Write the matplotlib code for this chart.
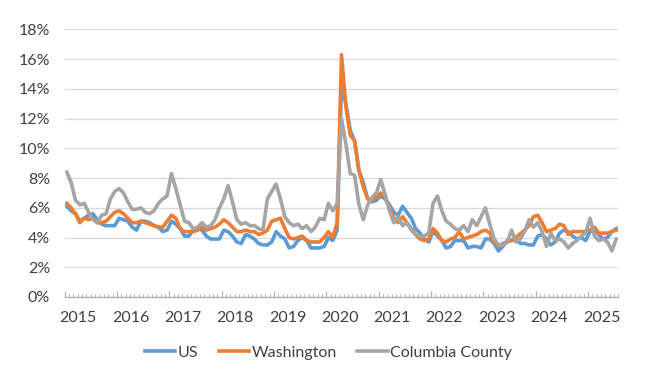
"""Monthly unemployment rate: US vs Washington vs Columbia County, 2015-2025."""

import matplotlib

matplotlib.use("Agg")
import matplotlib.pyplot as plt
import numpy as np
from matplotlib.ticker import FixedLocator, PercentFormatter

plt.rcParams["font.family"] = ["Lato", "DejaVu Sans"]

# monthly values, Jan 2015 .. Jul 2025 (percent)
us = [
    6.1, 5.8, 5.6, 5.1, 5.3, 5.5, 5.6, 5.2, 4.9, 4.8, 4.8, 4.8,
    5.3, 5.2, 5.1, 4.7, 4.5, 5.1, 5.1, 5.0, 4.8, 4.7, 4.4, 4.5,
    5.1, 4.9, 4.6, 4.1, 4.1, 4.5, 4.6, 4.5, 4.1, 3.9, 3.9, 3.9,
    4.5, 4.4, 4.1, 3.7, 3.6, 4.2, 4.1, 3.9, 3.6, 3.5, 3.5, 3.7,
    4.4, 4.1, 3.9, 3.3, 3.4, 3.8, 4.0, 3.8, 3.3, 3.3, 3.3, 3.4,
    4.0, 3.8, 4.5, 14.4, 13.0, 11.2, 10.5, 8.5, 7.7, 6.6, 6.4, 6.5,
    6.8, 6.6, 6.2, 5.7, 5.5, 6.1, 5.7, 5.3, 4.6, 4.3, 3.9, 3.7,
    4.4, 4.1, 3.8, 3.3, 3.4, 3.8, 3.8, 3.8, 3.3, 3.4, 3.4, 3.3,
    3.9, 3.9, 3.6, 3.1, 3.4, 3.8, 3.8, 3.9, 3.6, 3.6, 3.5, 3.5,
    4.1, 4.2, 3.9, 3.5, 3.7, 4.3, 4.5, 4.4, 4.1, 3.9, 4.0, 3.8,
    4.4, 4.5, 4.2, 3.9, 4.0, 4.4, 4.6,
]
washington = [
    6.3, 6.0, 5.6, 5.0, 5.3, 5.2, 5.3, 5.0, 5.0, 5.1, 5.4, 5.7,
    5.8, 5.6, 5.3, 5.0, 5.0, 5.1, 5.0, 4.9, 4.8, 4.7, 4.7, 5.1,
    5.5, 5.3, 4.6, 4.4, 4.4, 4.4, 4.5, 4.7, 4.5, 4.6, 4.7, 4.9,
    5.2, 5.0, 4.7, 4.4, 4.4, 4.5, 4.4, 4.4, 4.2, 4.3, 4.5, 5.1,
    5.2, 5.3, 4.6, 4.0, 3.9, 4.0, 4.1, 3.8, 3.7, 3.7, 3.7, 4.0,
    4.4, 4.0, 5.0, 16.3, 12.8, 10.9, 10.5, 8.5, 7.4, 6.6, 6.5, 6.7,
    7.0, 6.7, 6.0, 5.3, 5.0, 5.4, 5.0, 4.6, 4.2, 3.9, 3.8, 3.9,
    4.6, 4.3, 3.8, 3.7, 3.9, 4.0, 4.4, 3.9, 4.0, 4.1, 4.2, 4.4,
    4.5, 4.3, 3.7, 3.4, 3.6, 3.7, 3.8, 4.0, 4.25, 4.5, 4.8, 5.4,
    5.5, 5.0, 4.4, 4.5, 4.6, 4.9, 4.8, 4.2, 4.4, 4.4, 4.4, 4.4,
    4.5, 4.7, 4.3, 4.3, 4.3, 4.4, 4.5,
]
columbia = [
    8.4, 7.7, 6.5, 6.2, 6.3, 5.7, 5.2, 5.0, 5.5, 5.6, 6.6, 7.1,
    7.3, 7.0, 6.4, 5.9, 5.9, 6.0, 5.7, 5.6, 5.8, 6.3, 6.6, 6.8,
    8.3, 7.3, 6.2, 5.1, 5.0, 4.6, 4.7, 5.0, 4.7, 4.8, 5.2, 6.0,
    6.6, 7.5, 6.4, 5.2, 4.9, 5.0, 4.8, 4.8, 4.6, 4.5, 6.6, 7.1,
    7.6, 6.6, 5.4, 5.0, 4.8, 4.9, 4.6, 4.8, 4.4, 4.7, 5.3, 5.2,
    6.3, 5.8, 6.3, 12.0, 10.3, 8.3, 8.2, 6.2, 5.2, 6.2, 6.7, 7.0,
    7.9, 6.9, 5.8, 5.0, 5.4, 4.8, 5.0, 4.5, 4.2, 4.1, 4.1, 4.3,
    6.3, 6.8, 5.8, 5.1, 4.9, 4.6, 4.5, 4.8, 4.4, 5.2, 4.8, 5.4,
    6.0, 4.9, 3.9, 3.5, 3.5, 3.7, 4.5, 3.7, 3.9, 4.4, 5.2, 4.7,
    5.0, 4.4, 3.4, 4.3, 3.8, 3.9, 3.7, 3.3, 3.6, 3.8, 4.1, 4.3,
    5.3, 4.1, 3.8, 3.9, 3.7, 3.1, 3.9,
]
years = ["2015", "2016", "2017", "2018", "2019", "2020",
         "2021", "2022", "2023", "2024", "2025"]

SERIES = [
    ("US", us, "#5B9BD5"),
    ("Washington", washington, "#ED7D31"),
    ("Columbia County", columbia, "#A5A5A5"),
]
TEXT = "#404040"
AXIS = "#b4b4b4"
GRID = "#d9d9d9"
FS = 11.5

n = len(us)
x = np.arange(n)

fig = plt.figure(figsize=(6.5, 3.79), dpi=100)
ax = fig.add_axes([0.0994, 0.2164, 0.852, 0.7058])

for name, vals, color in SERIES:
    ax.plot(x, vals, color=color, lw=2.6, label=name, solid_joinstyle="round")

ax.set_xlim(-0.5, n - 0.5)
ax.set_ylim(0, 18)
ax.set_yticks(np.arange(0, 19, 2))
ax.yaxis.set_major_formatter(PercentFormatter(decimals=0))
ax.grid(axis="y", color=GRID, lw=0.9)
ax.set_axisbelow(True)

for side in ("left", "right", "top"):
    ax.spines[side].set_visible(False)
ax.spines["bottom"].set_color(AXIS)
ax.spines["bottom"].set_linewidth(1.0)

# year boundaries as major ticks, months as minor ticks
ax.xaxis.set_major_locator(FixedLocator(np.arange(-0.5, n, 12)))
ax.xaxis.set_minor_locator(FixedLocator(np.arange(-0.5, n + 0.5, 1)))
ax.tick_params(axis="x", which="major", direction="in", length=4.5, width=0.9,
               color=AXIS, labelbottom=False)
ax.tick_params(axis="x", which="minor", direction="in", length=2.2, width=0.7,
               color=AXIS)
ax.tick_params(axis="y", length=0, pad=10.5, labelsize=FS, labelcolor=TEXT)

for k, label in enumerate(years):
    ax.text(12 * k + 2.6, -0.078, label, transform=ax.get_xaxis_transform(),
            ha="center", va="center", fontsize=FS, color=TEXT)

fig.legend(loc="center", bbox_to_anchor=(0.505, 0.069), ncol=3, frameon=False,
           fontsize=FS, handlelength=1.9, handletextpad=0.15, columnspacing=1.3,
           labelcolor=TEXT)

fig.savefig("out.png", dpi=100)
